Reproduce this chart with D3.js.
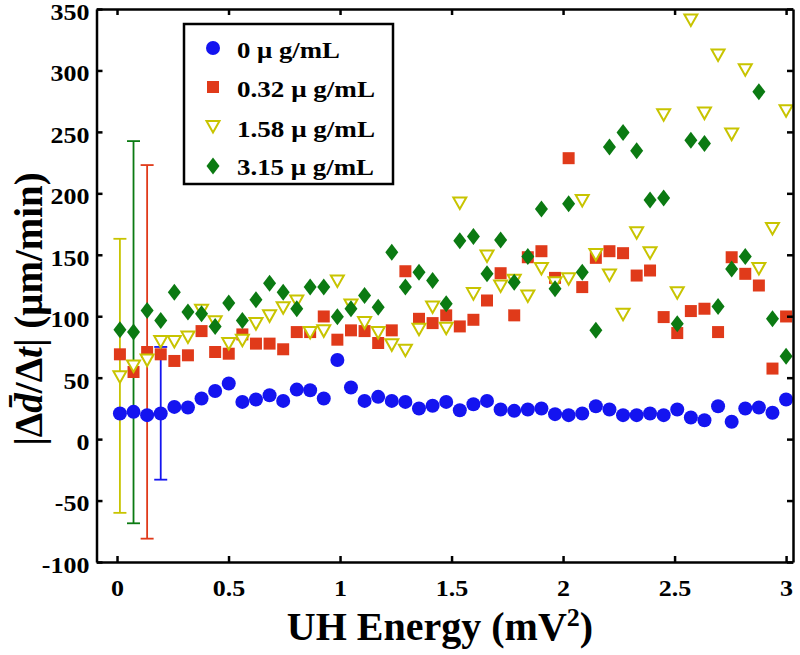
<!DOCTYPE html>
<html>
<head>
<meta charset="utf-8">
<script src="https://cdn.jsdelivr.net/npm/d3@7"></script>
<style>
  html, body { margin: 0; padding: 0; background: #fff; }
  svg { display: block; }
  text { font-family: "Liberation Serif", "Times New Roman", serif; font-weight: bold; fill: #000; }
</style>
</head>
<body>
<svg id="chart" width="800" height="655"></svg>
<script>
// ---- data ----
const energy = [0.013, 0.074, 0.135, 0.196, 0.257, 0.318, 0.379, 0.440, 0.501, 0.562,
  0.623, 0.684, 0.745, 0.806, 0.866, 0.927, 0.988, 1.049, 1.110, 1.171,
  1.232, 1.293, 1.354, 1.415, 1.476, 1.537, 1.598, 1.659, 1.720, 1.781,
  1.842, 1.903, 1.964, 2.025, 2.086, 2.147, 2.208, 2.269, 2.330, 2.390,
  2.451, 2.512, 2.573, 2.634, 2.695, 2.756, 2.817, 2.878, 2.939, 3.000];

const conc0 = [20.8, 22.2, 19.5, 20.8, 26.2, 25.7, 33, 39.2, 45.2, 30.3,
  32.2, 35.7, 31.1, 40.3, 39.8, 33, 64.4, 42, 31.1, 34.4,
  31.1, 30.3, 24.9, 27.1, 30.3, 23.5, 28.4, 31.1, 24.1, 23,
  24.1, 24.9, 20.3, 19.5, 20.8, 26.8, 24.1, 19.5, 19.5, 20.8,
  19.5, 24.1, 17.6, 15.4, 26.8, 14.1, 24.9, 25.7, 21.4, 32.2];

const conc032 = [69, 54.6, 70.9, 69, 63.6, 68.2, 87.9, 70.9, 69.5, 85.2,
  77.7, 77.7, 73.1, 87.1, 87.1, 99.8, 80.9, 88.5, 87.9, 78.2,
  88.5, 136.6, 97.9, 94.4, 100.7, 91.7, 97.1, 112.8, 135, 100.7,
  148, 152.9, 131.2, 228.6, 123.7, 147.5, 152.9, 151.3, 133.1, 137.2,
  99.3, 86.3, 104.2, 106.1, 87.1, 148, 134.5, 125, 57.4, 99.8];

const conc158 = [51.1, 60, 64.7, 79.8, 79.8, 83.6, 105.3, 96, 78.2, 80.9,
  94.4, 100.7, 107.4, 112.8, 87.1, 88.5, 129, 109.6, 95.2, 87.1,
  77.1, 72.8, 89.8, 108, 90.6, 192.6, 118.8, 149.4, 125, 129.6,
  116.9, 139.3, 127.7, 131, 194.5, 150.7, 133.9, 102, 168.3, 152,
  264.4, 119.6, 341.5, 265.7, 313, 248.6, 300.9, 139.3, 171.8, 267.6];

const conc315 = [89, 87.1, 104.7, 96.6, 119.6, 103.4, 102, 91.7, 110.7, 96.6,
  113.4, 126.9, 119.6, 106.1, 123.7, 123.7, 99.5, 106.1, 116.9, 107.4,
  152, 123.7, 135.8, 129, 110.1, 161.5, 164.8, 134.5, 162, 127.7,
  148.5, 187.2, 122.3, 191.5, 135.8, 88.5, 237.8, 249.5, 234.6, 194.5,
  196.2, 93.9, 243.2, 240.5, 108, 138.5, 148.5, 282.7, 97.9, 67.4];

const seriesNames = ["0 \u03bc g/mL", "0.32 \u03bc g/mL", "1.58 \u03bc g/mL", "3.15 \u03bc g/mL"];

// error bars: x, mean, half-width
const errEnergy = [0.013, 0.074, 0.135, 0.196];
const errMean = [51.5, 87, 71, 21];
const errHalf = [111.5, 155.5, 152, 54];
const errSeries = [2, 3, 1, 0];

const xTicks = [0, 0.5, 1, 1.5, 2, 2.5, 3];
const yTicks = [-100, -50, 0, 50, 100, 150, 200, 250, 300, 350];

// ---- styling ----
const colors = ["#1414f0", "#e03a1a", "#c8c400", "#0b7a12"];
const shapes = ["circle", "square", "triangle", "diamond"];

const svg = d3.select("#chart");
const L = 96.5, R = 793, T = 9, B = 562;
const x = d3.scaleLinear().domain([-0.092, 3.031]).range([L, R]);
const y = d3.scaleLinear().domain([-100, 350]).range([B, T]);

function symbolPath(shape) {
  if (shape === "circle") return d3.symbol().type(d3.symbolCircle).size(Math.PI * 7 * 7)();
  if (shape === "square") return "M-6,-6L6,-6L6,6L-6,6Z";
  if (shape === "diamond") return "M0,-8.5L6.5,0L0,8.5L-6.5,0Z";
  return "M-6.5,-5L6.5,-5L0,6.5Z";
}
function styleMarker(sel, i) {
  if (shapes[i] === "triangle") {
    sel.attr("fill", "#fff").attr("stroke", colors[i]).attr("stroke-width", 2);
  } else {
    sel.attr("fill", colors[i]).attr("stroke", "none");
  }
}
function stretch(sel, f) {
  sel.each(function () {
    const len = this.getComputedTextLength();
    if (len > 0) d3.select(this).attr("textLength", len * f).attr("lengthAdjust", "spacingAndGlyphs");
  });
}

// error bars
const eb = svg.append("g");
errEnergy.forEach((ex, k) => {
  const c = colors[errSeries[k]];
  const px = x(ex);
  const y1 = y(errMean[k] + errHalf[k]), y2 = y(errMean[k] - errHalf[k]);
  eb.append("line").attr("x1", px).attr("x2", px).attr("y1", y1).attr("y2", y2)
    .attr("stroke", c).attr("stroke-width", 1.8);
  [y1, y2].forEach(yy => eb.append("line").attr("x1", px - 6.5).attr("x2", px + 6.5)
    .attr("y1", yy).attr("y2", yy).attr("stroke", c).attr("stroke-width", 1.8));
});

// markers
const allSeries = [conc0, conc032, conc158, conc315];
allSeries.forEach((vals, i) => {
  svg.append("g").selectAll("path").data(vals).join("path")
    .attr("d", symbolPath(shapes[i]))
    .attr("transform", (d, j) => `translate(${x(energy[j])},${y(d)})`)
    .call(styleMarker, i);
});

// axes
const fs = 23;
const gB = svg.append("g").attr("transform", `translate(0,${B})`)
  .call(d3.axisBottom(x).tickValues(xTicks).tickFormat(d3.format("")).tickSizeInner(-6).tickSizeOuter(0).tickPadding(18));
const gT = svg.append("g").attr("transform", `translate(0,${T})`)
  .call(d3.axisTop(x).tickValues(xTicks).tickFormat("").tickSizeInner(-6).tickSizeOuter(0));
const gL = svg.append("g").attr("transform", `translate(${L},0)`)
  .call(d3.axisLeft(y).tickValues(yTicks).tickFormat(d3.format("")).tickSizeInner(-6).tickSizeOuter(0).tickPadding(7));
const gR = svg.append("g").attr("transform", `translate(${R},0)`)
  .call(d3.axisRight(y).tickValues(yTicks).tickFormat("").tickSizeInner(-6).tickSizeOuter(0));
[gB, gT, gL, gR].forEach(g => {
  g.select(".domain").attr("stroke", "#000").attr("stroke-width", 2.5);
  g.selectAll(".tick line").attr("stroke", "#000").attr("stroke-width", 2.5);
  g.selectAll("text").attr("font-family", "Liberation Serif, serif").attr("font-weight", "bold")
    .attr("font-size", fs).attr("fill", "#000");
});
gL.selectAll(".tick text").attr("dy", "0.45em").text(d => d < 0 ? "-" + Math.abs(d) : d);
gL.selectAll(".tick text").call(stretch, 1.13);
gB.selectAll(".tick text").call(stretch, 1.13);

// legend
const lg = svg.append("g");
lg.append("rect").attr("x", 184).attr("y", 24).attr("width", 209).attr("height", 160)
  .attr("fill", "#fff").attr("stroke", "#000").attr("stroke-width", 2.5);
const rowY = [48, 87, 126, 166];
const rowBase = [58, 97, 137, 175];
const rowLen = [103, 138, 138, 137];
seriesNames.forEach((name, i) => {
  lg.append("path").attr("d", symbolPath(shapes[i]))
    .attr("transform", `translate(213,${rowY[i]})`).call(styleMarker, i);
  lg.append("text").attr("x", 237).attr("y", rowBase[i]).attr("font-size", 23)
    .attr("textLength", rowLen[i]).attr("lengthAdjust", "spacingAndGlyphs").text(name);
});

// axis labels
svg.append("text").attr("x", 440).attr("y", 640).attr("text-anchor", "middle")
  .attr("font-size", 40)
  .call(t => {
    t.append("tspan").text("UH Energy (mV");
    t.append("tspan").attr("font-size", 26).attr("dy", -14).text("2");
    t.append("tspan").attr("dy", 14).text(")");
  });

svg.append("text").attr("transform", "translate(42,309) rotate(-90)")
  .attr("text-anchor", "middle").attr("font-size", 39)
  .call(t => {
    t.append("tspan").text("|\u0394");
    t.append("tspan").attr("font-style", "italic").text("d\u0304");
    t.append("tspan").text("/\u0394");
    t.append("tspan").attr("font-style", "italic").text("t");
    t.append("tspan").text("| (\u03bcm/min)");
  });
</script>
</body>
</html>
